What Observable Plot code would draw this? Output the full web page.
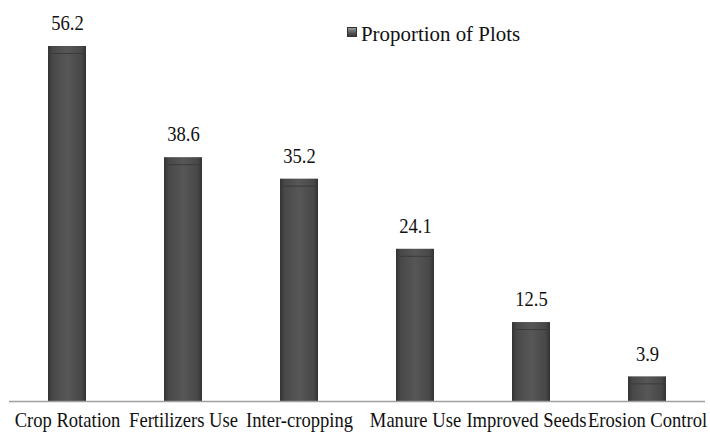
<!DOCTYPE html>
<html>
<head>
<meta charset="utf-8">
<script src="https://cdn.jsdelivr.net/npm/d3@7"></script>
<script src="https://cdn.jsdelivr.net/npm/@observablehq/plot@0.6"></script>
<style>
  body { margin: 0; background: #fff; }
  #wrap { position: relative; width: 710px; height: 432px; }
  #legend { position: absolute; left: 347px; top: 23px; font-size: 22px; font-family: "Liberation Serif", "Times New Roman", serif; line-height: 22px; color: #111; white-space: nowrap; }
  #legend .sw { display: inline-block; width: 10px; height: 10px; background: linear-gradient(#9a9a9a, #555 60%, #3a3a3a); border: 1px solid #333; margin-right: 4px; vertical-align: 4px; box-sizing: border-box; }
  #legend .lt { display: inline-block; transform: scaleX(0.95); transform-origin: left center; }
</style>
</head>
<body>
<svg width="0" height="0" style="position:absolute">
  <defs>
    <linearGradient id="barGrad" x1="0" x2="1" y1="0" y2="0">
      <stop offset="0" stop-color="#333"/>
      <stop offset="0.12" stop-color="#484848"/>
      <stop offset="0.5" stop-color="#575757"/>
      <stop offset="0.88" stop-color="#484848"/>
      <stop offset="1" stop-color="#333"/>
    </linearGradient>
    <linearGradient id="capGrad" x1="0" x2="1" y1="0" y2="0">
      <stop offset="0" stop-color="#555"/>
      <stop offset="0.15" stop-color="#8a8a8a"/>
      <stop offset="0.5" stop-color="#9a9a9a"/>
      <stop offset="0.85" stop-color="#8a8a8a"/>
      <stop offset="1" stop-color="#555"/>
    </linearGradient>
  </defs>
</svg>
<div id="wrap">
  <div id="legend"><span class="sw"></span><span class="lt">Proportion of Plots</span></div>
</div>
<script>
const categories = ["Crop Rotation", "Fertilizers Use", "Inter-cropping", "Manure Use", "Improved Seeds", "Erosion Control"];
const values = [56.2, 38.6, 35.2, 24.1, 12.5, 3.9];
const seriesName = "Proportion of Plots";

const data = categories.map((c, i) => ({category: c, value: values[i]}));
const serif = "'Liberation Serif', 'Times New Roman', serif";
const axisOpts = { tickSize: 0, tickPadding: 11, fontSize: 21, label: null, fill: "#111", fontFamily: serif };

const chart = Plot.plot({
  width: 710,
  height: 432,
  marginLeft: 9,
  marginRight: 5,
  marginTop: 22,
  marginBottom: 31,
  style: { fontFamily: serif, background: "transparent", overflow: "visible" },
  x: { domain: categories, paddingInner: 0.67, paddingOuter: 0.335, label: null, axis: null },
  y: { domain: [0, 60], axis: null },
  marks: [
    Plot.barY(data, { x: "category", y: "value", fill: "url(#barGrad)" }),
    Plot.tickY(data, { x: "category", y: "value", stroke: "url(#capGrad)", strokeWidth: 6, dy: 3 }),
    Plot.tickY(data, { x: "category", y: "value", stroke: "#3a3a3a", strokeWidth: 1, dy: 7 }),
    Plot.ruleY([0], { stroke: "#a0a0a0", strokeWidth: 1.5 }),
    Plot.text(data, { x: "category", y: "value", text: d => d.value.toFixed(1), dy: -23, fontSize: 21, fill: "#111", fontFamily: serif }),
    Plot.axisX(categories.filter(c => c !== "Improved Seeds"), axisOpts),
    Plot.axisX(["Improved Seeds"], { ...axisOpts, dx: -5 })
  ]
});
document.getElementById("wrap").prepend(chart);

// Reference typography is horizontally condensed: narrow each label around its own centre.
chart.querySelectorAll("text").forEach(t => {
  const b = t.getBBox();
  const cx = b.x + b.width / 2;
  const prev = t.getAttribute("transform") || "";
  t.setAttribute("transform", `${prev} translate(${cx},0) scale(0.885,1) translate(${-cx},0)`);
});
</script>
</body>
</html>
